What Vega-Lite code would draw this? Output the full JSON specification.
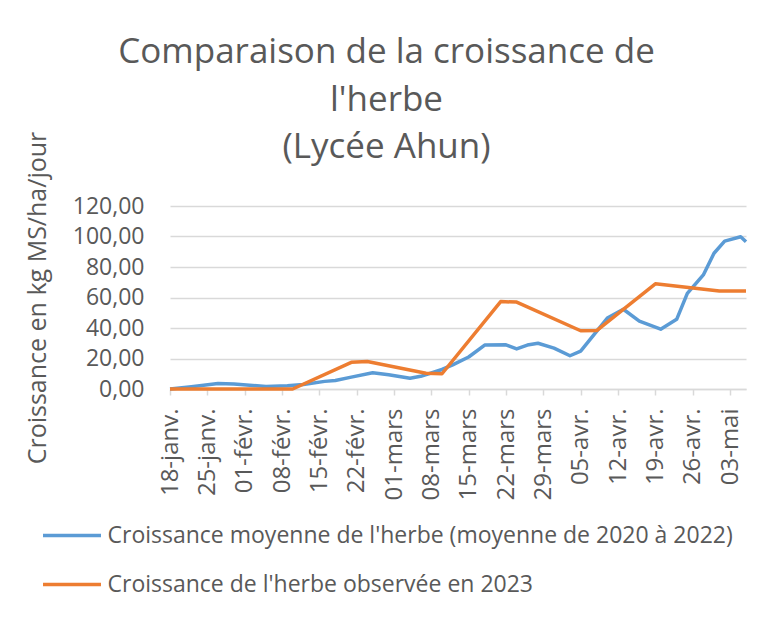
{
  "$schema": "https://vega.github.io/schema/vega-lite/v6.json",
  "width": 576,
  "height": 183,
  "padding": {"left": 25, "top": 35, "right": 5, "bottom": 5},
  "background": "white",
  "config": {
    "font": "Open Sans",
    "view": {"stroke": null},
    "locale": {
      "number": {"decimal": ",", "thousands": " ", "grouping": [3], "currency": ["", " €"]},
      "time": {
        "dateTime": "%A %e %B %Y à %X",
        "date": "%d/%m/%Y",
        "time": "%H:%M:%S",
        "periods": ["AM", "PM"],
        "days": ["dimanche", "lundi", "mardi", "mercredi", "jeudi", "vendredi", "samedi"],
        "shortDays": ["dim.", "lun.", "mar.", "mer.", "jeu.", "ven.", "sam."],
        "months": ["janvier", "février", "mars", "avril", "mai", "juin", "juillet", "août", "septembre", "octobre", "novembre", "décembre"],
        "shortMonths": ["janv.", "févr.", "mars", "avr.", "mai", "juin", "juil.", "août", "sept.", "oct.", "nov.", "déc."]
      }
    }
  },
  "title": {
    "text": ["Comparaison de la croissance de", "l'herbe", "(Lycée Ahun)"],
    "font": "Open Sans",
    "fontSize": 35,
    "fontWeight": "normal",
    "color": "#595959",
    "lineHeight": 47.5,
    "anchor": "middle",
    "frame": "bounds",
    "offset": -34
  },
  "data": {
    "values": [
      {"date": "2023-01-18", "value": 0.0, "series": "Croissance moyenne de l'herbe (moyenne de 2020 à 2022)"},
      {"date": "2023-01-22", "value": 1.5, "series": "Croissance moyenne de l'herbe (moyenne de 2020 à 2022)"},
      {"date": "2023-01-27", "value": 3.6, "series": "Croissance moyenne de l'herbe (moyenne de 2020 à 2022)"},
      {"date": "2023-01-30", "value": 3.3, "series": "Croissance moyenne de l'herbe (moyenne de 2020 à 2022)"},
      {"date": "2023-02-05", "value": 1.6, "series": "Croissance moyenne de l'herbe (moyenne de 2020 à 2022)"},
      {"date": "2023-02-09", "value": 2.2, "series": "Croissance moyenne de l'herbe (moyenne de 2020 à 2022)"},
      {"date": "2023-02-12", "value": 3.0, "series": "Croissance moyenne de l'herbe (moyenne de 2020 à 2022)"},
      {"date": "2023-02-16", "value": 5.0, "series": "Croissance moyenne de l'herbe (moyenne de 2020 à 2022)"},
      {"date": "2023-02-18", "value": 5.6, "series": "Croissance moyenne de l'herbe (moyenne de 2020 à 2022)"},
      {"date": "2023-02-21", "value": 7.8, "series": "Croissance moyenne de l'herbe (moyenne de 2020 à 2022)"},
      {"date": "2023-02-25", "value": 10.6, "series": "Croissance moyenne de l'herbe (moyenne de 2020 à 2022)"},
      {"date": "2023-02-28", "value": 9.3, "series": "Croissance moyenne de l'herbe (moyenne de 2020 à 2022)"},
      {"date": "2023-03-04", "value": 7.0, "series": "Croissance moyenne de l'herbe (moyenne de 2020 à 2022)"},
      {"date": "2023-03-06", "value": 8.3, "series": "Croissance moyenne de l'herbe (moyenne de 2020 à 2022)"},
      {"date": "2023-03-10", "value": 12.8, "series": "Croissance moyenne de l'herbe (moyenne de 2020 à 2022)"},
      {"date": "2023-03-12", "value": 15.8, "series": "Croissance moyenne de l'herbe (moyenne de 2020 à 2022)"},
      {"date": "2023-03-15", "value": 21.0, "series": "Croissance moyenne de l'herbe (moyenne de 2020 à 2022)"},
      {"date": "2023-03-18", "value": 28.8, "series": "Croissance moyenne de l'herbe (moyenne de 2020 à 2022)"},
      {"date": "2023-03-22", "value": 29.0, "series": "Croissance moyenne de l'herbe (moyenne de 2020 à 2022)"},
      {"date": "2023-03-24", "value": 26.3, "series": "Croissance moyenne de l'herbe (moyenne de 2020 à 2022)"},
      {"date": "2023-03-26", "value": 28.8, "series": "Croissance moyenne de l'herbe (moyenne de 2020 à 2022)"},
      {"date": "2023-03-28", "value": 30.0, "series": "Croissance moyenne de l'herbe (moyenne de 2020 à 2022)"},
      {"date": "2023-03-31", "value": 26.8, "series": "Croissance moyenne de l'herbe (moyenne de 2020 à 2022)"},
      {"date": "2023-04-03", "value": 21.8, "series": "Croissance moyenne de l'herbe (moyenne de 2020 à 2022)"},
      {"date": "2023-04-05", "value": 24.8, "series": "Croissance moyenne de l'herbe (moyenne de 2020 à 2022)"},
      {"date": "2023-04-10", "value": 46.5, "series": "Croissance moyenne de l'herbe (moyenne de 2020 à 2022)"},
      {"date": "2023-04-13", "value": 52.3, "series": "Croissance moyenne de l'herbe (moyenne de 2020 à 2022)"},
      {"date": "2023-04-16", "value": 44.5, "series": "Croissance moyenne de l'herbe (moyenne de 2020 à 2022)"},
      {"date": "2023-04-20", "value": 39.2, "series": "Croissance moyenne de l'herbe (moyenne de 2020 à 2022)"},
      {"date": "2023-04-23", "value": 45.7, "series": "Croissance moyenne de l'herbe (moyenne de 2020 à 2022)"},
      {"date": "2023-04-25", "value": 62.7, "series": "Croissance moyenne de l'herbe (moyenne de 2020 à 2022)"},
      {"date": "2023-04-28", "value": 74.8, "series": "Croissance moyenne de l'herbe (moyenne de 2020 à 2022)"},
      {"date": "2023-04-30", "value": 89.0, "series": "Croissance moyenne de l'herbe (moyenne de 2020 à 2022)"},
      {"date": "2023-05-02", "value": 97.0, "series": "Croissance moyenne de l'herbe (moyenne de 2020 à 2022)"},
      {"date": "2023-05-05", "value": 99.8, "series": "Croissance moyenne de l'herbe (moyenne de 2020 à 2022)"},
      {"date": "2023-05-06", "value": 96.5, "series": "Croissance moyenne de l'herbe (moyenne de 2020 à 2022)"},
      {"date": "2023-01-18", "value": 0.0, "series": "Croissance de l'herbe observée en 2023"},
      {"date": "2023-02-10", "value": 0.0, "series": "Croissance de l'herbe observée en 2023"},
      {"date": "2023-02-21", "value": 17.5, "series": "Croissance de l'herbe observée en 2023"},
      {"date": "2023-02-24", "value": 18.0, "series": "Croissance de l'herbe observée en 2023"},
      {"date": "2023-03-07", "value": 10.3, "series": "Croissance de l'herbe observée en 2023"},
      {"date": "2023-03-10", "value": 10.0, "series": "Croissance de l'herbe observée en 2023"},
      {"date": "2023-03-21", "value": 57.3, "series": "Croissance de l'herbe observée en 2023"},
      {"date": "2023-03-24", "value": 57.0, "series": "Croissance de l'herbe observée en 2023"},
      {"date": "2023-04-05", "value": 38.2, "series": "Croissance de l'herbe observée en 2023"},
      {"date": "2023-04-08", "value": 38.3, "series": "Croissance de l'herbe observée en 2023"},
      {"date": "2023-04-19", "value": 69.0, "series": "Croissance de l'herbe observée en 2023"},
      {"date": "2023-05-01", "value": 64.2, "series": "Croissance de l'herbe observée en 2023"},
      {"date": "2023-05-06", "value": 64.2, "series": "Croissance de l'herbe observée en 2023"}
    ]
  },
  "mark": {"type": "line", "strokeWidth": 3.5, "strokeJoin": "round", "strokeCap": "butt"},
  "encoding": {
    "x": {
      "field": "date",
      "type": "temporal",
      "scale": {
        "type": "utc",
        "nice": false,
        "domain": [
          {"year": 2023, "month": 1, "date": 18, "utc": true},
          {"year": 2023, "month": 5, "date": 6, "utc": true}
        ]
      },
      "axis": {
        "title": null,
        "values": [1674000000000, 1674604800000, 1675209600000, 1675814400000, 1676419200000, 1677024000000, 1677628800000, 1678233600000, 1678838400000, 1679443200000, 1680048000000, 1680652800000, 1681257600000, 1681862400000, 1682467200000, 1683072000000],
        "format": "%d-%b",
        "labelAngle": -90,
        "labelAlign": "right",
        "labelBaseline": "middle",
        "labelFontSize": 24,
        "labelColor": "#595959",
        "labelPadding": 13,
        "labelOverlap": false,
        "labelFlush": false,
        "labelBound": false,
        "grid": false,
        "domainColor": "#D9D9D9",
        "domainWidth": 1.5,
        "tickColor": "#D9D9D9",
        "tickWidth": 1.5,
        "tickSize": 6
      }
    },
    "y": {
      "field": "value",
      "type": "quantitative",
      "scale": {"domain": [0, 120], "nice": false},
      "axis": {
        "title": "Croissance en kg MS/ha/jour",
        "titleFontSize": 25,
        "titleFontWeight": "normal",
        "titleColor": "#595959",
        "titlePadding": 22,
        "values": [0, 20, 40, 60, 80, 100, 120],
        "format": ".2f",
        "labelFontSize": 23,
        "labelColor": "#595959",
        "labelPadding": 26,
        "ticks": false,
        "tickSize": 0,
        "domain": false,
        "gridColor": "#D9D9D9",
        "gridWidth": 1.5
      }
    },
    "color": {
      "field": "series",
      "type": "nominal",
      "sort": null,
      "scale": {
        "domain": ["Croissance moyenne de l'herbe (moyenne de 2020 à 2022)", "Croissance de l'herbe observée en 2023"],
        "range": ["#5B9BD5", "#ED7D31"]
      },
      "legend": {
        "title": null,
        "orient": "none",
        "legendX": -127,
        "legendY": 318,
        "direction": "vertical",
        "padding": 0,
        "symbolType": "M-4,0H4",
        "symbolSize": 210,
        "symbolStrokeWidth": 3.5,
        "symbolOffset": 17.5,
        "labelOffset": 24,
        "labelFontSize": 23,
        "labelColor": "#595959",
        "labelLimit": 800,
        "rowPadding": 25
      }
    }
  }
}
